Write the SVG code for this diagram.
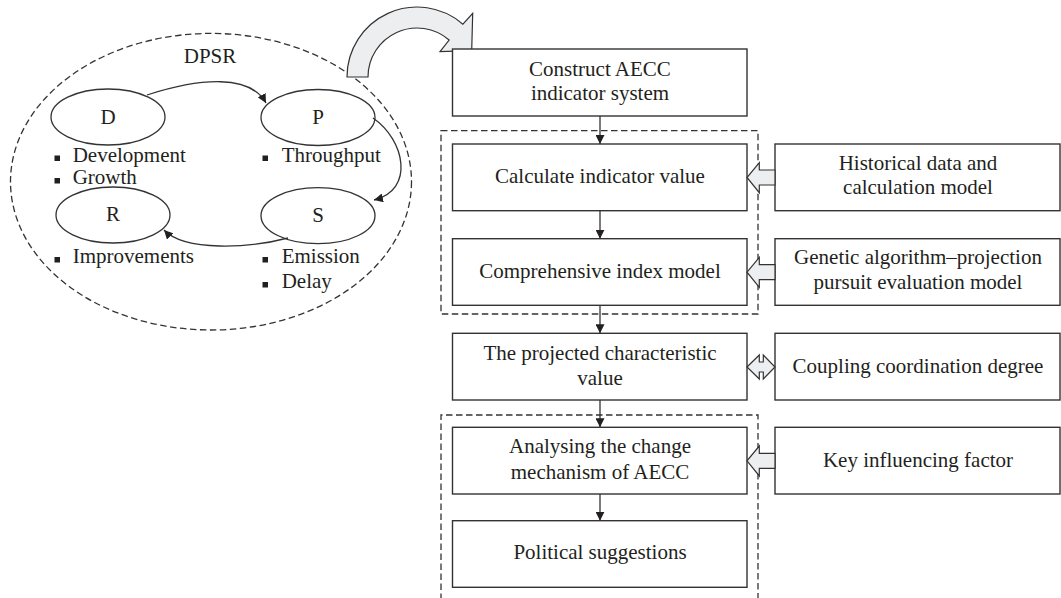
<svg xmlns="http://www.w3.org/2000/svg" width="1061" height="598" viewBox="0 0 1061 598">
<style>
text{font-family:"Liberation Serif","Times New Roman",serif;font-size:21px;fill:#231f20}
.c{text-anchor:middle}
.box{fill:#fff;stroke:#333;stroke-width:1.4}
.ell{fill:#fff;stroke:#333;stroke-width:1.3}
.dash{fill:none;stroke:#333;stroke-width:1.3;stroke-dasharray:6.5,3.5}
.ln{fill:none;stroke:#333;stroke-width:1.3}
.blk{fill:#eceeef;stroke:#333;stroke-width:1.2;stroke-linejoin:miter}
.bul{fill:#231f20}
</style>
<defs>
<marker id="ah" viewBox="0 0 10 10" refX="10" refY="5" markerWidth="9" markerHeight="9" markerUnits="userSpaceOnUse" orient="auto">
<path d="M0,0 L10,5 L0,10 z" fill="#231f20"/>
</marker>
</defs>

<!-- DPSR group -->
<ellipse class="dash" cx="211" cy="181.7" rx="200.5" ry="148.3"/>
<text class="c" x="210" y="63">DPSR</text>

<g id="nodeD">
<ellipse class="ell" cx="108" cy="117" rx="57" ry="28"/>
<text class="c" x="108" y="123.5">D</text>
<rect class="bul" x="54.5" y="155.5" width="5.5" height="5.5"/>
<text x="72.7" y="161.7">Development</text>
<rect class="bul" x="54.5" y="178" width="5.5" height="5.5"/>
<text x="72.7" y="184">Growth</text>
</g>
<g id="nodeP">
<ellipse class="ell" cx="318" cy="117.5" rx="57" ry="28"/>
<text class="c" x="318" y="123.5">P</text>
<rect class="bul" x="262.5" y="155.5" width="5.5" height="5.5"/>
<text x="281.7" y="161.7">Throughput</text>
</g>
<g id="nodeR">
<ellipse class="ell" cx="113" cy="215" rx="57" ry="28"/>
<text class="c" x="113" y="221">R</text>
<rect class="bul" x="54.5" y="257" width="5.5" height="5.5"/>
<text x="72.7" y="263.3">Improvements</text>
</g>
<g id="nodeS">
<ellipse class="ell" cx="318" cy="215.7" rx="57" ry="28"/>
<text class="c" x="318" y="221.7">S</text>
<rect class="bul" x="262.5" y="257" width="5.5" height="5.5"/>
<text x="281.7" y="263.3">Emission</text>
<rect class="bul" x="262.5" y="282" width="5.5" height="5.5"/>
<text x="281.7" y="288.3">Delay</text>
</g>

<!-- big curved arrow -->
<path id="bigArrow" class="blk" d="M347,77 A70,70 0 0 1 462.9,24.2 L472.7,13.3 L471.7,50.7 L440,51.7 L449.1,40 A49,49 0 0 0 368,77 Z"/>

<!-- dashed groups -->
<rect class="dash" x="441" y="130.7" width="317" height="183.3"/>
<path class="dash" d="M441,620 L441,415 L758,415 L758,620"/>

<!-- main column -->
<g id="box1"><rect class="box" x="452.5" y="49" width="294.5" height="67"/>
<text class="c" x="600" y="75.7">Construct AECC</text><text class="c" x="600" y="100">indicator system</text></g>
<g id="box2"><rect class="box" x="452.5" y="144" width="294.5" height="66.7"/>
<text class="c" x="600" y="183">Calculate indicator value</text></g>
<g id="box3"><rect class="box" x="452.5" y="238.7" width="294.5" height="66.6"/>
<text class="c" x="600" y="278">Comprehensive index model</text></g>
<g id="box4"><rect class="box" x="452.5" y="333.3" width="294.5" height="66.7"/>
<text class="c" x="600" y="360">The projected characteristic</text><text class="c" x="600" y="385">value</text></g>
<g id="box5"><rect class="box" x="452.5" y="427.3" width="294.5" height="66.7"/>
<text class="c" x="600" y="453.3">Analysing the change</text><text class="c" x="600" y="479">mechanism of AECC</text></g>
<g id="box6"><rect class="box" x="452.5" y="520.7" width="294.5" height="66.6"/>
<text class="c" x="600" y="559">Political suggestions</text></g>

<!-- right column -->
<g id="r1"><rect class="box" x="775" y="144" width="285" height="66.7"/>
<text class="c" x="918" y="170">Historical data and</text><text class="c" x="918" y="194">calculation model</text></g>
<g id="r2"><rect class="box" x="775" y="238.7" width="285" height="66.6"/>
<text class="c" x="918" y="264">Genetic algorithm–projection</text><text class="c" x="918" y="289">pursuit evaluation model</text></g>
<g id="r3"><rect class="box" x="775" y="333.3" width="285" height="66.7"/>
<text class="c" x="918" y="373">Coupling coordination degree</text></g>
<g id="r4"><rect class="box" x="775" y="427.3" width="285" height="66.7"/>
<text class="c" x="918" y="467">Key influencing factor</text></g>

<!-- connectors -->
<g id="connectors">
<path class="ln" marker-end="url(#ah)" d="M147,95 C200,78 250,74 266,103"/>
<path class="ln" marker-end="url(#ah)" d="M373,118 C405,140 415,190 374,200"/>
<path class="ln" marker-end="url(#ah)" d="M288,238 C250,248 185,252 164,230"/>
<path class="ln" marker-end="url(#ah)" d="M600,116 V144"/>
<path class="ln" marker-end="url(#ah)" d="M600,210.7 V238.7"/>
<path class="ln" marker-end="url(#ah)" d="M600,305.3 V333.3"/>
<path class="ln" marker-end="url(#ah)" d="M600,400 V427.3"/>
<path class="ln" marker-end="url(#ah)" d="M600,494 V520.7"/>
<path class="blk" d="M775,170 L759.3,170 L759.3,162.7 L747,177.5 L759.3,192.7 L759.3,185 L775,185 Z"/>
<path class="blk" d="M775,264.7 L759.3,264.7 L759.3,257.4 L747,272.2 L759.3,287.4 L759.3,279.7 L775,279.7 Z"/>
<path class="blk" d="M775,453.3 L759.3,453.3 L759.3,446 L747,460.8 L759.3,476 L759.3,468.3 L775,468.3 Z"/>
<path class="blk" d="M747,367 L759.3,355 L759.3,362 L763.3,362 L763.3,355 L775,367 L763.3,379 L763.3,372 L759.3,372 L759.3,379 Z"/>
</g>
</svg>
